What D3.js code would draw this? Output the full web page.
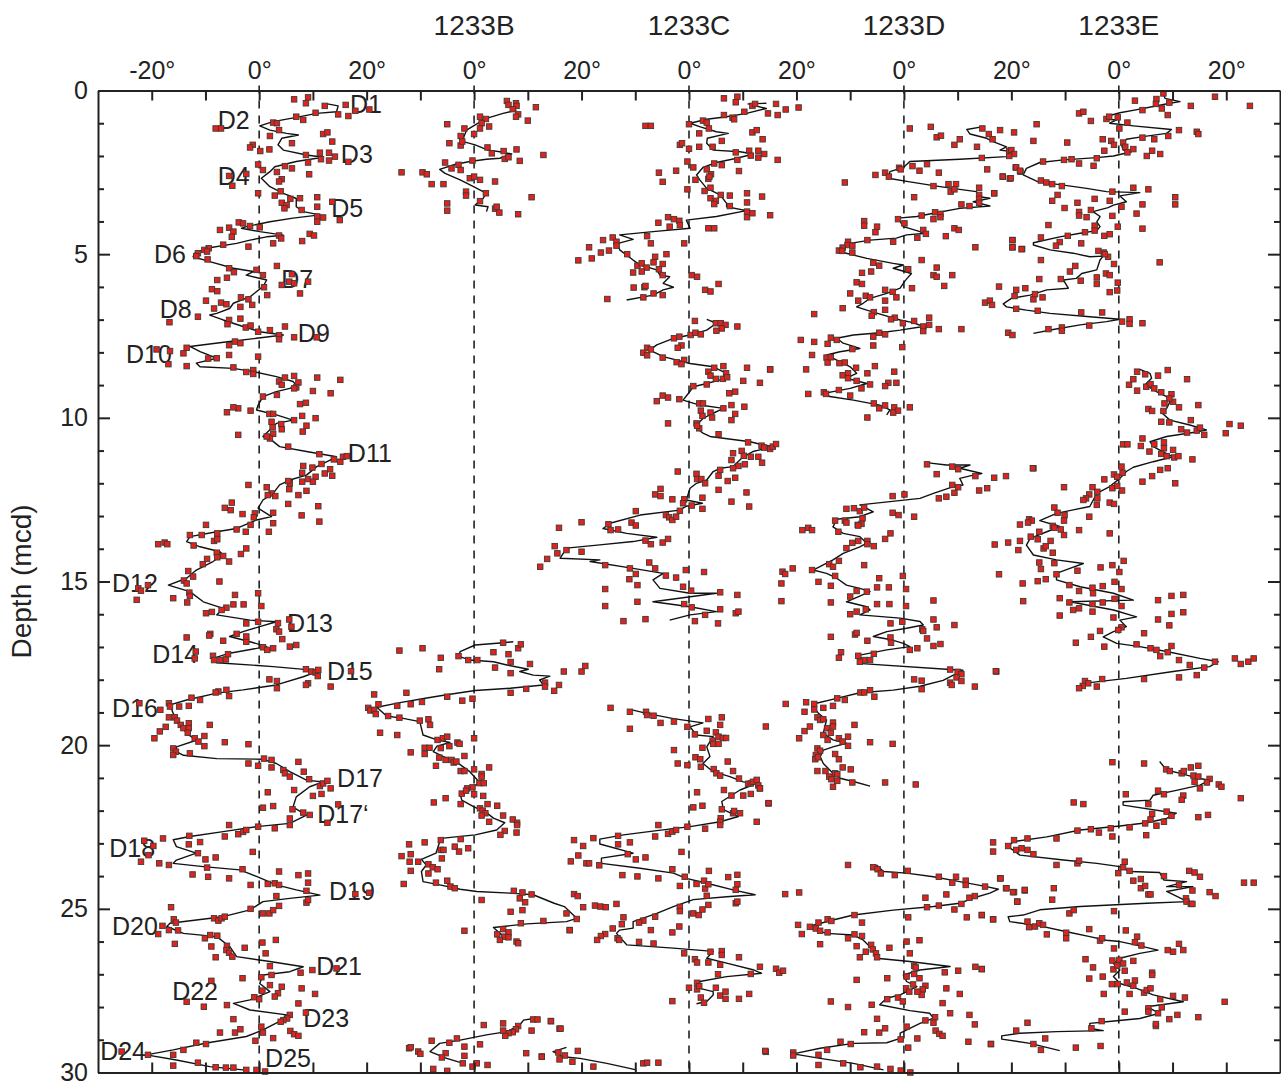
<!DOCTYPE html>
<html>
<head>
<meta charset="utf-8">
<script src="https://cdn.jsdelivr.net/npm/d3@7"></script>
<style>
  body { margin: 0; background: #fff; }
  svg text { font-family: "Liberation Sans", Arial, Helvetica, sans-serif; fill: #222; }
</style>
</head>
<body>
<div id="chart"></div>
<script>
// Hole names (first column is the unlabeled composite)
const holeNames = ["", "1233B", "1233C", "1233D", "1233E"];

// Top axis tick labels (degrees, repeated per hole)
const topTickValues = [-20, 0, 20, 40, 60, 80, 100, 120, 140, 160, 180];
const topTickLabels = ["-20°", "0°", "20°", "0°", "20°", "0°", "20°", "0°", "20°", "0°", "20°"];

// Climate marker labels [name, depth, inclination position]
const markerNames = ["D1","D2","D3","D4","D5","D6","D7","D8","D9","D10","D11","D12","D13","D14","D15","D16","D17","D17‘","D18","D19","D20","D21","D22","D23","D24","D25"];
const markerDepths = [0.69,1.18,2.22,2.89,3.87,5.27,6.03,6.95,7.68,8.33,11.35,15.32,16.55,17.49,18.01,19.14,21.28,22.38,23.42,24.73,25.80,27.02,27.79,28.61,29.62,29.83];
const markerIncs = [16.9,-7.7,15.2,-7.7,13.4,-19.6,4.1,-18.5,7.2,-24.8,16.5,-27.4,5.2,-19.9,12.6,-27.4,14.5,10.8,-27.9,13.0,-27.4,10.6,-16.2,8.2,-29.6,1.1];

// Smoothed records [depth (mcd), inclination deviation (°)]; null = gap
const lineA = [[0.41,12.7],[0.47,14.7],[0.65,14.4],[0.70,10.7],[0.82,6.9],[0.95,2.6],[1.08,0.1],[1.21,2.0],[1.31,5.1],[1.36,7.3],[1.46,4.2],[1.66,3.5],[1.82,4.5],[1.97,8.8],[2.04,11.9],[2.17,6.9],[2.33,2.9],[2.48,2.0],[2.68,0.4],[2.94,2.0],[3.14,4.5],[3.30,6.9],[3.55,6.9],[3.70,8.2],[3.80,11.3],[3.90,6.3],[4.01,2.0],[4.16,-2.4],[4.21,-3.3],[4.31,0.1],[4.42,4.5],[4.47,1.4],[4.57,-1.7],[4.67,-4.2],[4.82,-9.8],[4.97,-12.0],[5.08,-12.3],[5.23,-9.2],[5.43,-4.8],[5.53,-1.1],[5.64,-2.4],[5.79,1.4],[5.99,0.7],[6.30,-1.7],[6.50,-4.8],[6.66,-5.5],[6.81,-7.9],[6.86,-9.2],[7.01,-6.7],[7.21,-3.0],[7.37,0.1],[7.47,4.5],[7.57,-0.5],[7.67,-5.5],[7.82,-12.9],[7.98,-11.0],[8.18,-7.9],[8.33,-11.7],[8.44,-11.0],[8.49,-4.8],[8.59,-1.1],[8.74,3.2],[8.89,6.3],[9.00,6.9],[9.10,5.7],[9.20,3.2],[9.35,0.7],[9.61,-0.2],[9.76,-0.5],[9.91,3.2],[10.07,6.3],[10.17,3.2],[10.57,0.7],[10.68,2.3],[10.88,3.8],[11.03,8.8],[11.19,14.4],[11.29,13.2],[11.49,10.7],[11.75,8.8],[11.90,5.7],[12.05,3.8],[12.31,2.6],[12.51,0.7],[12.76,-0.2],[13.02,2.3],[13.12,-0.5],[13.38,-4.2],[13.48,-7.9],[13.63,-12.9],[13.78,-13.5],[13.94,-11.0],[14.09,-7.3],[14.19,-6.7],[14.39,-8.6],[14.65,-11.7],[14.90,-13.5],[15.11,-16.9],[15.31,-12.9],[15.62,-10.4],[15.82,-6.7],[16.02,-7.9],[16.18,-1.7],[16.23,3.2],[16.38,0.1],[16.53,-3.0],[16.68,-5.5],[16.84,-1.7],[16.99,1.4],[17.19,-5.5],[17.35,-8.6],[17.48,-7.9],[17.60,2.6],[17.70,9.4],[17.72,11.3],[17.91,8.2],[18.16,3.2],[18.31,-3.0],[18.41,-7.9],[18.62,-13.5],[18.77,-16.6],[19.03,-16.0],[19.33,-14.8],[19.64,-13.5],[19.85,-11.7],[20.05,-15.4],[20.20,-15.4],[20.31,-14.1],[20.41,-7.9],[20.43,0.7],[20.56,3.2],[20.81,5.7],[21.07,8.8],[21.12,11.9],[21.27,9.4],[21.58,6.9],[21.89,6.3],[22.14,8.8],[22.39,5.7],[22.49,-0.5],[22.64,-6.7],[22.79,-12.9],[22.89,-16.0],[23.10,-15.4],[23.30,-11.7],[23.51,-15.4],[23.61,-16.0],[23.71,-10.4],[23.81,-3.6],[24.01,-0.5],[24.27,3.2],[24.42,6.9],[24.58,11.3],[24.68,5.7],[24.78,0.7],[25.03,-1.7],[25.24,-6.7],[25.34,-11.7],[25.44,-16.6],[25.54,-17.2],[25.75,-14.1],[25.85,-7.9],[26.15,-5.5],[26.46,-4.2],[26.61,2.0],[26.77,8.2],[26.92,5.7],[27.02,0.7],[27.28,0.1],[27.53,2.0],[27.78,-1.7],[27.89,-4.8],[28.09,-1.7],[28.24,5.1],[28.44,3.8],[28.70,0.7],[28.90,-2.4],[29.10,-9.8],[29.31,-16.0],[29.46,-21.0],[29.62,-15.4],[29.82,-9.2],[29.92,-3.0]];

const lineB = [[0.60,7.9],[0.70,5.4],[0.85,2.3],[1.05,0.2],[1.21,-1.4],[1.41,-1.9],[1.56,-2.0],[1.66,0.2],[1.82,2.6],[1.87,4.8],[1.94,7.0],[2.07,4.8],[2.10,2.3],[2.17,-0.8],[2.26,-3.6],[2.41,-6.4],[2.53,-5.4],[2.73,-2.6],[2.94,-0.1],[3.14,2.3],[3.29,1.7],[3.50,0.2],[3.55,2.6],[3.70,2.3],null,
[16.84,7.3],[16.87,5.4],[16.94,0.2],[17.14,-2.6],[17.28,-2.9],[17.40,-0.8],[17.45,3.6],[17.55,6.1],[17.68,10.1],[17.75,8.5],[17.86,11.0],[17.89,14.1],[18.01,12.2],[18.16,12.9],[18.26,6.7],[18.33,0.2],[18.46,-5.1],[18.56,-8.8],[18.70,-13.8],[18.84,-18.1],[19.11,-16.3],[19.18,-13.2],[19.28,-10.1],[19.69,-9.5],[19.84,-6.9],[19.92,-4.5],[20.03,-6.9],[20.20,-7.6],[20.35,-5.7],[20.51,-3.3],[20.81,-0.8],[21.04,0.5],[21.16,1.1],[21.27,-0.5],[21.48,-2.6],[21.68,-2.3],[21.88,-0.1],[22.06,2.3],[22.23,3.6],[22.37,5.7],[22.59,4.2],[22.74,0.2],[22.84,-5.7],[22.95,-6.4],[23.30,-7.1],[23.49,-9.8],[23.66,-8.9],[23.86,-9.8],[24.17,-9.5],[24.27,-6.4],[24.40,-2.6],[24.47,0.5],[24.52,6.7],[24.57,11.0],[24.83,14.9],[24.93,16.8],[25.29,19.1],[25.39,17.2],[25.46,9.8],[25.57,3.6],[25.75,4.8],[25.95,6.1],null,
[28.35,11.0],[28.40,9.2],[28.55,8.5],[28.75,6.1],[28.85,2.3],[29.01,-2.6],[29.11,-6.4],[29.36,-8.2],[29.57,-5.1],[29.72,-2.0]];

const lineC = [[0.39,14.4],[0.41,11.0],[0.55,14.4],[0.70,10.7],[0.80,7.0],[0.88,3.3],[1.00,0.2],[1.11,2.1],[1.26,5.1],[1.31,7.3],[1.46,3.4],[1.61,3.3],[1.82,4.5],[1.87,9.5],[1.94,12.0],[2.07,8.9],[2.20,5.1],[2.35,2.6],[2.58,1.4],[2.73,2.0],[2.99,3.3],[3.19,5.8],[3.45,7.0],[3.55,7.0],[3.67,10.7],[3.85,5.1],[3.96,-0.5],[4.21,0.2],[4.31,-6.7],[4.41,-12.9],[4.55,-10.4],[4.67,-13.2],[4.87,-12.9],[5.18,-10.4],[5.33,-9.1],[5.48,-6.0],[5.64,-5.4],[5.69,-3.6],[5.89,-4.8],[6.01,-2.9],[6.09,-4.8],[6.25,-6.7],[6.40,-11.6],null,
[6.99,3.3],[7.11,5.1],[7.32,3.3],[7.47,0.2],[7.57,-2.9],[7.77,-6.0],[7.93,-7.3],[8.13,-4.8],[8.34,0.2],[8.44,4.5],[8.64,7.0],[8.84,5.8],[8.95,3.3],[9.05,0.8],[9.25,-0.1],[9.46,-1.1],[9.61,2.0],[9.71,6.4],[9.86,4.5],[10.02,2.6],[10.27,1.1],[10.47,2.6],[10.57,3.9],[10.73,11.4],[10.83,13.8],[10.88,15.7],[11.03,11.9],[11.19,10.1],[11.49,8.2],[11.54,5.8],[11.64,4.5],[11.90,3.3],[12.00,1.4],[12.15,0.2],[12.51,-0.5],[12.61,2.5],[12.70,-0.5],[12.82,-1.7],[12.97,-9.1],[13.22,-14.7],[13.38,-16.0],[13.53,-11.6],[13.65,-6.0],[13.78,-10.4],[13.88,-16.6],[13.98,-22.8],[14.29,-24.0],[14.34,-16.6],[14.39,-18.4],[14.60,-10.4],[14.75,-4.8],[14.95,-6.7],[15.21,-5.4],[15.36,0.2],[15.36,5.1],[15.62,-6.7],[15.77,0.2],[15.92,5.1],[16.02,0.2],[16.18,-3.6],null,
[18.93,-10.4],[19.03,-7.9],[19.19,-2.9],[19.32,2.6],[19.44,0.2],[19.69,1.4],[19.74,4.5],[20.05,3.3],[20.35,3.9],[20.56,2.6],[20.81,4.5],[20.96,7.6],[21.12,10.1],[21.17,12.6],[21.37,9.5],[21.72,6.1],[21.97,6.4],[22.18,9.2],[22.34,5.8],[22.49,0.2],[22.61,-6.0],[22.74,-12.2],[22.87,-16.6],[23.02,-16.6],[23.30,-10.4],[23.45,-16.3],[23.61,-16.3],[23.76,-9.1],[23.91,-2.9],[24.07,-0.5],[24.22,3.3],[24.42,8.2],[24.57,12.3],[24.63,7.0],[24.72,0.8],[24.93,-2.9],[25.14,-6.0],[25.39,-10.4],[25.59,-10.4],[25.65,-12.9],[25.75,-13.5],[26.10,-11.6],[26.20,-2.9],[26.30,4.5],[26.51,3.3],[26.66,7.0],[26.86,11.9],[26.97,13.5],[27.07,7.0],[27.22,2.0],[27.43,2.0],[27.53,4.5],[27.63,4.5],[27.83,3.3],[27.90,1.4],null,
[29.23,-22.8],[29.36,-25.3],[29.52,-23.4],[29.57,-20.3],[29.72,-15.3],[29.92,-9.8]];

const lineD = [[1.11,14.5],[1.19,11.7],[1.33,12.3],[1.46,15.4],[1.56,16.6],[1.72,19.1],[1.82,17.9],[1.87,20.3],[2.02,19.1],[2.10,10.4],[2.17,1.1],[2.35,-0.1],[2.48,-2.6],[2.68,-2.9],[2.79,1.1],[2.92,6.1],[3.02,10.4],[3.09,13.5],[3.24,13.8],[3.29,16.0],[3.40,12.9],[3.53,16.0],[3.60,10.4],[3.75,5.5],[3.85,2.4],[3.90,-1.1],[4.16,-0.1],[4.31,3.0],[4.36,4.2],[4.41,0.5],[4.51,-1.4],[4.57,-6.3],[4.67,-10.0],[4.87,-11.9],[4.95,-11.3],[5.13,-6.9],[5.28,-2.0],[5.33,-0.1],[5.43,-2.0],[5.59,1.4],[5.74,0.6],[5.84,0.1],[6.04,-0.7],[6.20,-3.2],[6.35,-6.3],[6.50,-7.6],[6.61,-8.8],[6.71,-6.9],[6.86,-3.8],[7.01,-0.7],[7.09,1.7],[7.21,3.6],[7.32,-0.7],[7.40,-4.5],[7.47,-9.4],[7.57,-12.5],[7.72,-11.3],[7.88,-8.2],[7.98,-11.9],[8.08,-14.4],[8.24,-12.5],[8.44,-10.0],[8.64,-8.8],[8.79,-10.7],[8.95,-6.9],[9.10,-10.0],[9.20,-13.2],[9.25,-14.7],[9.35,-13.8],[9.46,-9.4],[9.61,-4.5],[9.76,-2.6],[9.91,-3.2],null,
[11.37,4.2],[11.44,7.9],[11.44,12.3],[11.54,10.4],[11.70,14.5],[11.75,12.9],[11.85,10.4],[12.05,11.0],[12.10,9.2],[12.31,5.5],[12.46,3.0],[12.66,-8.2],[12.87,-5.7],[13.02,-8.2],[13.10,-12.5],[13.33,-13.2],[13.53,-11.3],[13.63,-8.2],[13.83,-6.9],[13.94,-8.2],[14.14,-11.3],[14.34,-13.2],[14.65,-16.9],[14.75,-14.4],[14.90,-12.5],[15.11,-10.7],[15.21,-8.2],[15.31,-6.3],[15.62,-10.7],[15.77,-6.9],[15.87,-6.3],[16.02,-8.2],[16.12,-0.7],[16.22,3.0],[16.33,3.6],[16.43,0.5],[16.53,-3.2],[16.68,-5.7],[16.77,-2.6],[16.89,-0.1],[16.99,1.1],[17.09,-3.2],[17.25,-8.2],[17.50,-8.5],[17.69,8.6],[17.71,11.0],[17.86,9.2],[18.02,7.3],[18.20,3.0],[18.32,-2.0],[18.40,-8.2],[18.57,-12.5],[18.72,-16.3],[18.82,-16.9],[19.03,-15.9],[19.23,-14.4],[19.43,-14.7],[19.64,-15.0],[19.84,-13.2],[19.94,-10.7],[20.05,-13.2],[20.15,-15.0],[20.35,-15.6],[20.56,-15.0],[20.86,-13.2],[21.01,-11.9],[21.11,-9.4],[21.25,-6.3],null,
[23.66,-5.1],[23.86,-3.8],[23.91,0.5],[24.02,5.5],[24.17,10.4],[24.32,15.4],[24.40,17.6],[24.52,16.0],[24.67,12.9],[24.83,10.4],[24.93,5.5],[25.04,-2.0],[25.19,-9.4],[25.34,-13.2],[25.50,-16.9],[25.65,-16.3],[25.75,-14.4],[25.80,-9.4],[25.95,-7.6],[26.26,-5.7],[26.51,-5.1],[26.61,1.1],[26.76,8.6],[26.87,3.0],[27.02,-0.1],[27.22,0.5],[27.38,2.4],[27.53,0.5],[27.63,-0.7],[27.73,-3.2],[27.93,-4.5],[28.11,1.1],[28.19,4.8],[28.34,5.5],[28.50,3.0],[28.65,1.1],[28.80,-0.7],[28.96,-0.7],[29.09,-3.2],[29.11,-9.4],[29.26,-15.6],[29.43,-20.6],[29.57,-15.6],[29.72,-9.4],[29.92,-3.8]];

const lineE = [[0.09,8.3],[0.24,8.6],[0.34,11.4],[0.39,9.5],[0.49,6.4],[0.57,3.9],[0.68,0.2],[0.78,-2.0],[0.88,-2.3],[0.90,-0.4],[1.00,-1.7],[1.08,2.7],[1.19,9.8],[1.31,8.9],[1.41,4.5],[1.49,1.4],[1.66,0.5],[1.82,0.8],[1.87,2.4],[2.00,-1.0],[2.05,-4.1],[2.12,-10.3],[2.20,-14.7],[2.38,-17.2],[2.58,-17.8],[2.79,-15.0],[2.89,-10.3],[2.99,-6.0],[3.09,-2.3],[3.12,3.9],[3.22,0.2],[3.40,1.4],[3.50,-1.0],[3.58,-2.0],[3.70,-4.8],[3.85,-3.5],[4.01,-4.1],[4.16,-3.5],[4.28,-4.1],[4.36,-7.2],[4.47,-11.0],[4.65,-15.9],[4.72,-15.9],[4.87,-12.8],[4.97,-8.5],[5.08,-5.4],[5.06,-2.9],[5.18,-3.5],[5.48,-4.1],[5.59,-6.9],[5.74,-7.9],[5.79,-10.3],[6.04,-9.4],[6.09,-13.4],[6.25,-16.5],[6.35,-20.0],[6.52,-21.5],[6.61,-20.9],[6.71,-17.2],[6.81,-12.8],[6.91,-5.4],[6.99,0.2],[7.06,-2.3],[7.16,-7.2],[7.30,-12.2],[7.42,-15.9],null,
[8.52,3.9],[8.64,5.8],[8.79,6.1],[8.99,4.9],[9.20,7.0],[9.35,8.9],[9.51,9.5],[9.71,8.9],[9.86,8.1],[10.07,9.5],[10.22,13.2],[10.37,16.3],[10.45,13.8],[10.57,8.9],[10.73,5.8],[10.88,6.4],[11.09,8.9],[11.19,10.1],[11.34,6.4],[11.51,2.7],[11.64,1.4],[11.85,0.2],[12.10,-1.7],[12.31,-4.1],[12.71,-5.4],[12.81,-8.5],[12.92,-11.6],[13.14,-14.7],[13.32,-11.0],[13.48,-13.4],[13.68,-16.5],[13.89,-17.2],[14.19,-15.9],[14.34,-11.6],[14.45,-6.6],[14.60,-9.1],[14.75,-11.6],[14.95,-11.6],[15.16,-7.2],[15.36,-1.0],[15.57,2.7],[15.62,-9.1],[15.87,-1.0],[16.08,3.3],[16.18,0.2],[16.38,1.4],[16.53,-1.0],[16.69,-2.9],[16.89,-0.4],[16.99,3.9],[17.14,8.9],[17.35,15.1],[17.45,18.5],[17.60,16.9],[17.75,10.1],[17.96,1.4],[18.09,-5.4],[18.26,-7.2],null,
[20.50,7.6],[20.76,8.9],[20.86,11.4],[21.02,15.1],[21.07,16.9],[21.22,15.1],[21.38,10.7],[21.53,6.4],[21.68,5.8],[21.73,0.8],[21.83,0.8],[22.08,10.7],[22.24,8.9],[22.37,5.2],[22.47,0.2],[22.59,-7.2],[22.80,-13.4],[22.95,-19.7],[23.10,-20.6],[23.36,-18.4],[23.51,-10.3],[23.61,-4.1],[23.71,0.2],[23.86,2.1],[23.89,7.6],[24.12,8.4],[24.17,12.6],[24.32,8.9],[24.32,13.8],[24.47,8.9],[24.78,12.8],[24.83,5.2],[24.93,-7.2],[25.03,-14.7],[25.19,-17.8],[25.24,-20.6],[25.39,-20.3],[25.52,-14.7],[25.70,-9.7],[25.85,-5.4],[25.96,-2.3],[26.00,0.2],[26.11,3.3],[26.26,7.3],[26.36,3.9],[26.51,0.2],[26.67,-1.0],[26.87,0.2],[27.07,-1.0],[27.28,0.2],[27.43,3.3],[27.63,6.4],[27.84,12.0],[27.99,5.2],[28.19,7.6],[28.35,3.9],[28.45,-2.3],[28.50,-5.4],[28.65,-5.4],[28.72,-2.9],[28.75,-11.6],[28.80,-18.4],[28.88,-21.8],[28.98,-21.8],[29.11,-16.5],[29.33,-11.0]];

// Individual measurements [depth (mcd), inclination deviation (°)]
const scatterA = [[0.27,6.5],[0.39,8.7],[0.21,9.1],[0.47,12.2],[0.44,16.1],[0.62,17.9],[0.58,20.5],[0.78,16.6],[0.73,14.7],[0.68,10.5],[0.80,6.9],[0.90,8.2],[1.16,-8.1],[1.16,-7.1],[0.98,2.6],[1.00,3.3],[1.21,3.7],[1.39,2.0],[1.33,11.9],[1.28,12.7],[1.56,13.6],[1.61,6.1],[1.66,-1.2],[1.74,-1.7],[1.85,0.2],[1.80,1.9],[1.97,8.7],[1.90,11.3],[1.90,13.0],[2.02,14.1],[2.14,13.0],[2.10,11.5],[2.18,16.6],[2.20,9.1],[2.31,4.8],[2.38,6.1],[2.26,-0.2],[2.43,0.7],[2.49,3.3],[2.56,9.3],[2.55,-2.4],[2.61,-5.6],[2.91,-5.0],[2.71,4.2],[2.78,3.7],[3.08,4.0],[3.14,-0.2],[3.21,2.9],[3.31,5.8],[3.29,7.6],[3.26,10.8],[3.55,10.8],[3.43,4.2],[3.50,5.1],[3.60,4.7],[3.65,7.9],[3.85,10.8],[3.88,11.9],[4.01,10.8],[3.96,15.0],[3.40,13.6],[4.03,-3.8],[4.06,-3.0],[4.14,-1.7],[4.18,0.1],[4.26,-7.3],[4.19,-5.6],[4.31,-4.8],[4.47,-5.1],[4.43,3.7],[4.52,4.1],[4.67,2.6],[4.60,8.0],[4.38,9.4],[4.43,10.2],[4.77,-2.0],[4.71,-6.7],[4.82,-9.4],[4.87,-10.2],[4.92,-9.7],[4.97,-11.4],[5.06,-11.7],[5.16,-9.6],[5.36,3.3],[5.43,-5.6],[5.55,-4.7],[5.48,-0.5],[5.64,0.7],[5.61,6.1],[5.84,5.6],[5.89,6.5],[5.84,9.1],[5.94,4.2],[6.20,7.6],[5.79,-7.8],[5.72,-6.0],[6.07,-8.8],[6.13,-7.8],[6.01,0.9],[6.25,1.5],[6.42,-9.9],[6.66,-8.4],[6.48,-7.1],[6.53,-6.1],[6.32,-3.4],[6.38,-2.0],[6.55,-1.3],[6.61,-3.5],[6.91,-11.4],[7.08,-16.7],[7.01,-5.6],[6.97,-3.5],[7.14,-5.9],[7.24,-2.5],[7.18,-1.6],[7.32,2.0],[7.37,-0.2],[7.48,3.7],[7.60,3.7],[7.21,4.8],[7.54,6.5],[7.54,10.7],[7.67,-4.5],[7.78,-5.6],[7.72,-3.5],[7.86,-13.5],[7.96,-16.6],[7.91,-19.1],[8.03,-14.1],[8.36,-16.9],[8.42,-13.5],[8.19,-9.5],[8.18,-7.9],[8.08,-5.6],[8.13,-0.2],[8.46,-4.8],[8.60,-2.4],[8.54,-1.1],[8.66,-1.1],[8.77,4.8],[8.72,6.5],[8.89,3.7],[8.99,4.2],[8.92,7.3],[9.07,6.9],[9.10,6.5],[8.77,10.8],[8.84,15.1],[9.18,10.0],[9.25,13.3],[9.30,3.3],[9.35,0.7],[9.58,7.6],[9.54,8.7],[9.71,-3.9],[9.68,-4.8],[9.83,-6.0],[9.78,-1.6],[9.88,1.9],[9.88,2.6],[9.94,8.0],[10.07,6.5],[10.01,10.5],[10.12,2.3],[10.19,4.1],[10.35,4.2],[10.29,2.5],[10.24,8.8],[10.42,8.1],[10.49,2.6],[10.63,2.0],[10.57,1.4],[10.52,-3.9],[10.88,5.4],[11.11,11.2],[11.27,13.9],[11.34,15.1],[11.19,15.6],[11.17,16.3],[11.41,11.6],[11.47,8.2],[11.52,9.9],[11.57,13.2],[11.77,13.6],[11.70,12.2],[11.80,10.5],[11.68,8.0],[11.95,8.0],[11.87,9.1],[11.95,10.0],[12.00,5.7],[11.93,5.4],[12.12,1.4],[12.05,-2.0],[12.18,5.6],[12.31,2.3],[12.39,3.0],[12.36,7.3],[12.23,8.8],[12.36,1.6],[12.63,5.4],[12.70,11.0],[12.59,-5.1],[12.75,-6.4],[12.82,-5.3],[12.94,-3.1],[12.92,-0.8],[12.90,2.6],[13.04,-1.0],[13.22,2.6],[13.48,1.8],[12.98,7.9],[13.17,11.2],[13.27,-9.9],[13.41,-4.2],[13.48,-2.5],[13.27,-1.6],[13.53,-7.8],[13.58,-10.7],[13.58,-12.9],[13.76,-8.4],[13.71,-7.8],[13.81,-17.6],[13.86,-18.8],[13.86,-17.1],[13.90,-12.2],[14.12,-7.9],[14.22,-6.7],[14.26,-7.8],[14.39,-5.6],[14.31,-9.7],[14.47,-10.5],[14.16,-3.4],[13.99,-2.4],
[14.68,-13.2],[14.85,-12.3],[15.00,-7.4],[14.97,-14.0],[15.06,-13.5],[15.11,-20.7],[15.21,-22.5],[15.28,-22.0],[15.56,-22.8],[15.51,-16.0],[15.34,-13.0],[15.44,-12.9],[15.64,-13.4],[15.41,-4.5],[15.36,-0.2],[15.75,0.4],[15.70,-2.9],[15.70,-4.8],[15.80,-6.1],[15.87,-7.0],[15.93,-8.8],[15.97,-9.9],[16.23,-0.2],[16.28,-2.4],[16.27,3.5],[16.16,5.6],[16.38,6.0],[16.46,3.2],[16.53,3.7],[16.76,4.3],[16.99,5.7],[16.94,6.9],[16.71,-13.5],[16.60,-9.1],[16.65,-9.3],[16.81,-6.7],[16.60,-4.2],[16.84,-2.4],[16.68,-2.4],[17.01,0.7],[17.09,1.5],[17.04,2.6],[17.14,-11.8],[17.35,-12.0],[17.27,-8.6],[17.40,-8.4],[17.40,-7.2],[17.38,-6.2],[17.22,-5.8],[17.68,8.7],[17.75,9.7],[17.78,10.5],[17.89,10.9],[17.70,11.0],[18.11,9.1],[18.16,8.7],[18.21,13.3],[17.74,17.1],[17.99,1.9],[18.04,3.3],[18.26,3.3],[18.36,-7.6],[18.39,-8.1],[18.31,-6.1],[18.50,-5.6],[18.62,-11.0],[18.55,-12.6],[18.72,-16.8],[18.82,-16.6],[18.92,-18.4],[18.72,-22.3],[18.82,-14.9],[18.80,-13.1],[19.15,-16.8],[19.15,-15.7],[19.25,-15.3],[19.38,-14.6],[19.48,-14.1],[19.33,-13.1],[19.48,-13.1],[19.62,-13.3],[19.44,-17.4],[19.58,-18.5],[19.79,-19.5],[19.38,-9.2],[19.79,-12.0],[19.72,-10.2],[20.03,-10.2],[19.89,-11.3],[19.91,-6.4],[19.97,-2.0],[20.10,-16.0],[20.20,-15.5],[20.30,-16.0],[20.25,-12.9],[20.41,0.9],[20.45,2.3],[20.56,-2.0],[20.63,-0.2],[20.68,2.3],[20.76,4.5],[20.51,7.3],[20.81,8.3],[20.86,4.8],[20.96,5.7],[21.04,9.3],[21.25,11.3],[21.17,11.9],[21.09,12.7],[21.32,13.3],[21.49,11.6],[21.55,10.0],[21.37,6.5],[21.44,1.6],[21.91,0.7],[21.86,2.6],[21.96,6.2],[22.06,8.2],[22.13,9.4],[21.81,14.7],[22.37,12.7],[22.24,5.7],[22.44,5.7],[22.54,2.9],[22.49,-0.2],[22.44,-5.6],[22.79,-6.4],[22.72,-3.9],[22.65,-3.0],[22.59,-2.4],[22.77,-13.0],[22.96,-11.0],[23.03,-13.1],[22.85,-17.9],[22.92,-21.4],[23.08,-19.7],[23.36,-20.6],[23.56,-22.0],[23.61,-18.6],[23.66,-16.8],[23.30,-11.4],[23.49,-10.0],[23.43,-8.1],[23.26,-1.2],[23.74,-9.7],[23.95,-12.4],[24.02,-9.5],[24.07,-5.6],[23.79,-3.1],[24.27,-1.6],[24.24,1.6],[24.22,2.9],[23.86,3.7],[24.27,3.7],[23.97,7.3],[23.92,9.1],[24.20,9.1],[24.61,3.2],[24.45,8.8],[24.81,8.8],[24.73,9.1],[24.55,17.9],[24.51,20.5],[25.00,-1.6],[25.14,0.7],[25.14,1.9],[25.04,2.6],[24.91,3.7],[24.95,-16.4],[25.32,-15.9],[25.42,-15.5],[25.52,-18.0],[25.77,-18.8],[25.65,-16.8],[25.66,-15.1],[25.29,-8.4],[25.36,-7.6],[25.29,-7.0],[25.24,-6.4],[25.90,-10.1],[25.80,-9.1],[25.82,-7.8],[26.07,-15.7],[26.15,-8.9],[26.13,-6.0],[26.48,-8.1],[26.26,-6.1],[26.34,-5.6],[26.46,-5.0],[26.19,-2.7],[26.03,0.6],[25.95,3.1],[26.36,1.2],[26.75,2.0],[27.02,2.3],[26.95,7.7],[26.87,9.9],[26.82,14.4],[27.12,-3.1],[27.09,0.4],[27.33,2.0],[27.50,0.6],[27.38,4.2],[27.58,3.5],[27.68,2.9],[27.43,7.9],[27.60,10.4],[27.20,-8.9],[27.84,-13.5],[27.99,-10.3],[27.94,-6.0],[27.70,-0.9],[27.76,0.0],[27.89,7.3],[28.17,8.7],[28.24,5.7],[28.35,5.2],[28.40,4.5],[28.45,4.0],[28.37,-4.8],[28.78,-4.5],[28.68,-3.5],[28.78,-7.3],[28.60,0.4],[28.78,0.7],[28.95,2.6],[28.73,5.8],[28.83,6.5],[28.88,7.3],[29.03,-0.7],[29.09,-11.7],[29.13,-9.9],[29.31,-14.1],[29.46,-16.0],[29.46,-20.7],[29.36,-25.6],[29.79,-16.0],[29.70,-11.4],[29.84,-8.1],[29.85,-6.2],[29.85,-4.8],[29.92,-2.4],[29.92,-0.5],[29.97,1.1]];

const scatterB = [[0.32,6.1],[0.44,6.4],[0.39,7.8],[0.47,7.9],[0.57,7.2],[0.51,11.5],[0.73,8.2],[0.80,7.8],[0.92,10.0],[0.80,1.1],[0.87,2.2],[1.00,1.4],[1.10,2.8],[1.16,1.1],[1.33,0.0],[1.16,-1.8],[1.03,-5.0],[1.39,-2.5],[1.61,-4.6],[1.68,-2.5],[1.56,-2.2],[1.74,2.5],[1.92,3.3],[1.85,5.5],[1.80,7.9],[2.09,5.7],[2.04,6.4],[2.15,8.5],[1.97,12.9],[2.14,-0.3],[2.20,-5.4],[2.27,-2.9],[2.38,-4.2],[2.43,-2.5],[2.50,-13.5],[2.50,-9.6],[2.56,-8.8],[2.86,-7.9],[2.86,-5.7],[2.68,-0.8],[2.63,0.0],[2.73,1.1],[2.78,3.9],[3.09,-1.5],[3.21,-1.5],[3.14,2.2],[3.38,1.1],[3.26,10.7],[3.45,-5.0],[3.67,-5.0],[3.61,3.9],[3.55,4.2],[3.73,4.7],[3.78,8.2],
[17.11,-13.9],[17.04,-9.6],[17.33,-6.2],[17.68,-6.5],[17.28,-2.9],[17.40,-1.1],[17.40,0.6],[17.16,3.6],[16.87,5.4],[17.22,6.4],[17.04,8.2],[16.92,8.7],[17.46,6.8],[17.52,10.4],[17.63,3.9],[17.80,6.8],[18.09,13.2],[18.21,13.2],[18.34,14.9],[18.16,15.8],[17.75,16.7],[17.75,20.0],[17.58,20.7],[18.28,9.7],[18.40,6.8],[18.58,-0.3],[18.64,-2.2],[18.52,-5.0],[18.68,-9.7],[18.40,-12.6],[18.75,-11.8],[18.80,-14.3],[18.45,-18.6],[18.75,-17.8],[18.86,-19.7],[18.94,-19.3],[18.92,-18.6],[19.05,-18.3],[19.11,-16.0],[19.16,-13.9],[19.25,-10.1],[19.21,-8.5],[19.38,-8.2],[19.62,-17.5],[19.69,-14.3],[19.84,-6.8],[19.79,-5.8],[19.74,-5.0],[20.09,-6.2],[20.03,-4.6],[19.92,-3.1],[19.96,-2.7],[20.08,-9.2],[20.08,-8.3],[20.27,-9.2],[20.22,-11.8],[19.79,0.0],[20.33,-1.8],[20.63,-7.1],[20.38,-6.5],[20.45,-5.3],[20.45,-4.2],[20.53,-3.8],[20.50,-3.3],[20.79,-2.5],[20.79,-1.8],[20.74,0.0],[20.88,1.4],[20.96,1.4],[20.68,2.8],[21.16,1.0],[21.16,1.8],[21.29,-0.3],[21.32,-1.3],[21.48,-2.3],[21.39,-1.5],[21.50,0.0],[21.55,1.7],[21.75,-7.5],[21.62,-5.3],[21.80,-2.5],[21.93,1.1],[21.80,2.5],[21.85,4.3],[22.00,1.6],[22.08,2.1],[22.15,1.4],[22.34,2.8],[22.15,5.4],[22.27,7.2],[22.37,8.0],[22.44,8.0],[22.62,5.7],[22.74,4.9],[22.67,7.9],[22.87,-2.5],[22.90,-6.2],[23.20,-6.2],[23.10,-3.6],[23.25,-2.8],[23.15,-1.1],[22.97,-9.2],[23.03,-12.1],[23.33,-11.8],[23.39,-13.5],[23.56,-12.0],[23.84,-11.8],[24.24,-13.1],[23.56,-10.4],[23.64,-8.5],[23.73,-7.7],[23.79,-6.8],[23.46,-6.0],[23.20,-5.7],[23.92,-8.5],[24.20,-7.1],[24.14,-5.0],[24.32,-4.4],[24.37,-3.6],[24.73,1.4],[24.45,7.4],[24.50,9.0],[24.56,10.7],[24.68,8.5],[24.80,9.5],[25.09,6.8],[25.04,9.0],[25.14,17.2],[25.31,19.1],[24.55,18.6],[24.61,19.3],[24.95,20.3],[25.37,12.9],[25.44,8.7],[25.65,17.8],[25.67,-1.8],[25.62,5.4],[25.72,6.4],[25.78,4.3],[25.85,5.6],[25.95,4.8],[25.87,6.4],[26.00,7.9],[26.05,8.2],
[28.38,11.0],[28.38,11.8],[28.43,14.3],[28.66,15.9],[28.72,10.7],[28.58,8.2],[28.68,7.8],[28.77,7.2],[28.80,6.4],[28.88,5.8],[28.50,5.4],[28.72,5.4],[28.55,1.8],[28.96,-3.2],[29.09,-4.6],[29.03,-7.9],[29.26,-12.1],[29.23,-11.8],[29.36,-10.4],[29.43,-10.0],[29.21,-1.8],[29.14,1.1],[29.41,-5.3],[29.54,-6.0],[29.49,-1.8],[29.89,-7.6],[29.95,-5.0],[29.72,-2.1],[29.82,-0.3],[29.72,0.5],[29.77,2.5],[29.41,9.7],[29.51,12.6]];

const scatterC = [[0.24,6.5],[0.19,9.0],[0.36,8.7],[0.47,11.8],[0.41,12.3],[0.41,16.2],[0.58,18.0],[0.52,20.4],[0.70,14.7],[0.75,16.5],[0.65,10.3],[0.75,6.5],[0.83,8.1],[0.88,8.4],[0.92,2.6],[0.98,3.3],[1.03,0.0],[1.08,-8.1],[1.08,-7.1],[1.16,3.7],[1.31,1.9],[1.54,6.1],[1.28,11.8],[1.21,12.6],[1.49,13.7],[1.66,-1.7],[1.61,-1.3],[1.78,0.0],[1.72,1.9],[1.72,4.4],[1.89,8.7],[1.84,11.2],[1.84,12.9],[1.94,14.0],[2.05,12.9],[1.99,11.5],[2.12,9.0],[2.12,16.5],[2.23,4.7],[2.28,6.1],[2.17,-0.3],[2.35,0.8],[2.41,3.3],[2.56,4.1],[2.70,3.6],[2.63,3.8],[2.46,9.3],[2.51,-5.6],[2.45,-2.4],[2.79,-4.9],[2.73,1.2],[3.02,-0.3],[3.07,2.9],[2.97,4.0],[3.19,5.9],[3.21,7.6],[3.14,10.8],[3.24,13.6],[3.29,4.0],[3.37,5.0],[3.47,4.7],[3.53,7.6],[3.42,10.8],[3.70,10.8],[3.87,10.8],[3.75,11.8],[3.81,15.1],[3.87,-3.9],[3.93,-2.8],[3.98,-1.8],[4.04,-5.7],[4.16,-3.6],[4.11,-1.7],[4.21,3.6],[4.21,4.7],[4.49,-14.2],[4.57,-16.0],[4.62,-13.5],[4.74,-13.5],[4.45,-7.8],[4.67,-7.1],[4.67,-0.9],[4.79,-18.6],[4.95,-16.4],[4.89,-14.9],[5.13,-18.1],[5.19,-20.6],[5.00,-11.5],[5.08,-6.3],[5.00,-4.2],[5.35,-9.6],[5.28,-8.8],[5.41,-7.9],[5.25,-6.6],[5.30,-4.9],[5.46,-5.6],[5.56,-10.4],[5.53,-8.8],[5.64,-4.9],[5.64,0.5],[5.69,1.5],[5.91,5.5],[6.02,-10.3],[6.01,-8.3],[5.97,-8.1],[6.20,-6.6],[6.25,-4.9],[6.32,-8.5],[6.37,-15.2],[6.09,3.0],[6.14,4.0],
[7.04,1.1],[7.11,5.0],[7.11,5.9],[7.16,6.8],[7.27,6.1],[7.34,5.1],[7.21,9.0],[7.47,0.3],[7.40,1.2],[7.45,2.2],[7.52,-1.8],[7.57,-2.8],[7.79,-1.4],[7.86,-2.1],[7.86,-7.8],[7.91,-7.1],[8.01,-8.5],[8.09,-7.8],[8.16,-4.9],[8.30,-2.3],[8.23,-0.9],[8.36,-1.4],[8.47,4.7],[8.42,6.4],[8.59,3.6],[8.64,6.9],[8.71,4.0],[8.81,5.0],[8.81,6.3],[8.76,7.1],[8.47,10.8],[8.52,15.1],[8.87,10.1],[8.93,13.2],[8.98,3.3],[9.03,0.8],[9.25,7.5],[9.20,8.6],[9.49,-6.0],[9.32,-4.9],[9.38,-3.9],[9.43,-1.8],[9.56,1.9],[9.56,2.6],[9.61,7.9],[9.66,10.3],[9.71,6.4],[9.78,2.2],[9.84,4.0],[9.94,2.5],[9.99,4.3],[9.88,8.6],[10.07,7.9],[10.17,-3.9],[10.17,1.4],[10.32,1.9],[10.24,1.5],[10.50,5.5],[10.75,11.0],[10.85,13.5],[10.91,14.0],[10.95,15.1],[10.88,15.6],[10.80,16.2],[11.08,8.2],[11.01,9.8],[11.29,7.9],[11.16,10.2],[11.19,11.5],[11.19,12.9],[11.37,13.6],[11.42,10.4],[11.47,9.2],[11.54,8.2],[11.59,5.8],[11.77,5.5],[11.83,8.6],[11.93,7.2],[11.64,-2.1],[11.71,1.4],[11.87,1.5],[11.87,2.3],[12.00,3.0],[12.20,5.5],[12.28,10.7],[12.17,-5.3],[12.34,-6.3],[12.39,-5.3],[12.49,-3.1],[12.49,-0.9],[12.61,-1.1],[12.68,0.5],[12.44,2.5],[12.78,2.5],[12.56,7.9],[12.71,11.2],[12.85,-9.9],[12.97,-4.3],[13.04,-3.7],[13.12,-3.1],[13.02,-2.4],[12.84,-1.7],[13.19,-20.0],[13.36,-24.2],[13.25,-15.0],[13.20,-10.7],[13.29,-9.9],[13.43,-14.6],[13.41,-13.2],[13.75,-8.1],[13.86,-7.1],[13.81,-4.9],[13.70,-3.9],[13.92,-25.0],[14.04,-22.8],[14.09,-20.0],[14.14,-24.5],[14.31,-26.4],[14.55,-27.7],[14.50,-15.6],[14.60,-11.0],[14.77,-9.9],[14.93,-11.1],[14.42,-7.4],[14.60,-6.3],[14.82,-4.3],[14.88,-2.4],[14.65,-0.6],[14.71,2.8],[15.23,-15.6],[15.11,-9.6],[15.16,-1.1],[15.28,0.4],[15.33,5.8],[15.41,9.0],[15.75,-15.6],[15.62,-9.6],[15.69,-0.9],[15.79,0.5],[16.02,3.0],[15.85,5.8],[16.28,5.4],[15.97,8.7],[15.92,9.2],[16.21,1.1],[16.15,-8.1],[16.21,-12.2],
[18.86,-14.6],[18.98,-11.0],[19.50,-11.0],[18.98,-8.0],[19.08,-7.8],[19.10,-6.6],[19.32,-5.3],[19.28,-2.8],[19.44,-0.3],[19.67,1.1],[19.56,3.3],[19.20,3.6],[19.15,6.1],[19.38,5.8],[19.61,5.0],[19.74,5.5],[19.78,6.3],[19.78,6.9],[19.86,4.4],[19.96,4.5],[19.96,5.5],[20.08,2.5],[20.15,-2.8],[20.56,-2.1],[20.61,-0.3],[20.37,1.2],[20.43,2.1],[20.66,2.2],[20.50,7.2],[20.79,8.2],[20.73,4.6],[20.86,5.1],[20.93,5.8],[21.02,9.3],[21.18,11.0],[21.17,11.5],[21.12,11.9],[21.06,12.6],[21.23,12.9],[21.32,13.2],[21.37,6.5],[21.54,7.9],[21.54,10.1],[21.49,11.5],[21.78,14.8],[21.44,1.5],[21.90,0.8],[21.85,2.5],[21.96,6.1],[22.23,5.9],[22.34,5.8],[22.44,5.8],[22.08,8.2],[22.01,8.4],[22.08,9.5],[22.34,12.6],[22.44,-5.7],[22.49,-0.3],[22.55,3.0],[22.79,-6.3],[22.71,-3.9],[22.64,-3.1],[22.59,-2.4],[22.77,-13.2],[22.97,-11.0],[23.03,-13.2],[22.84,-17.8],[22.90,-21.4],[23.08,-19.7],[23.37,-20.6],[23.55,-22.0],[23.61,-19.1],[23.61,-18.6],[23.67,-16.7],[23.33,-11.4],[23.49,-9.9],[23.43,-8.1],[23.26,-1.4],[23.97,-12.4],[24.01,-9.6],[24.07,-5.7],[23.79,-3.1],[24.30,-1.7],[24.02,-0.8],[24.24,1.4],[24.14,2.8],[24.38,3.0],[24.25,3.6],[23.84,3.7],[24.60,3.3],[24.03,7.3],[23.96,9.0],[24.25,9.0],[24.42,8.7],[24.83,8.7],[24.78,9.0],[24.94,-1.7],[25.07,-1.7],[25.14,0.8],[25.19,1.8],[25.02,2.5],[24.88,3.6],[25.24,-6.3],[25.36,-8.5],[25.42,-9.3],[25.65,-7.1],[25.72,-3.1],[25.54,-1.8],[25.26,-12.2],[25.47,-12.5],[25.60,-14.2],[25.77,-15.6],[25.83,-16.4],[25.95,-17.1],[25.90,-13.3],[25.95,-13.0],[26.01,-9.3],[26.06,-6.6],[25.65,-22.2],[24.90,-17.5],[24.93,-16.5],[24.95,-15.5],[24.85,-13.5],[26.36,-0.9],[26.31,4.0],[26.29,6.1],[26.41,6.1],[26.54,1.1],[26.64,1.5],[26.64,3.6],[26.71,5.8],[26.48,9.3],[26.77,13.2],[26.99,11.5],[27.00,5.4],[26.83,16.2],[26.95,16.8],[26.89,17.5],[27.26,1.5],[27.41,0.0],[27.46,1.5],[27.36,1.9],[27.41,5.0],[27.65,5.8],[27.53,6.8],[27.75,6.8],[27.75,9.3],[27.60,11.2],[27.71,2.2],[27.82,-3.1],[27.87,2.8],
[28.43,-25.7],[28.66,-23.9],[29.52,-27.4],[29.39,-24.3],[29.48,-23.1],[29.60,-24.1],[29.67,-21.7],[29.34,-20.7],[29.82,-17.8],[29.72,-8.5],[29.70,-7.8],[29.70,-5.7]];

const scatterD = [[1.16,1.1],[1.11,5.0],[1.43,6.1],[1.38,6.9],[1.49,10.4],[1.66,9.4],[1.72,13.6],[1.16,14.6],[1.33,15.8],[1.49,16.5],[1.21,17.9],[1.28,20.5],[1.84,19.6],[1.82,20.0],[1.94,20.5],[2.00,19.6],[2.06,14.5],[2.41,15.5],[2.63,18.4],[2.69,19.7],[2.35,20.8],[2.48,21.7],[2.31,1.6],[2.36,-0.9],[2.41,-0.6],[2.25,4.3],[2.45,2.9],[2.51,6.5],[2.51,-3.5],[2.58,-5.3],[2.63,-2.8],[2.81,-11.0],[3.26,1.9],[2.92,5.5],[2.86,8.3],[2.86,9.7],[3.09,8.7],[3.02,9.4],[2.97,14.0],[3.14,16.8],[3.19,14.0],[3.31,14.0],[3.43,14.0],[3.48,10.7],[3.53,12.2],[3.93,5.5],[3.72,5.8],[3.77,6.8],[3.87,6.8],[3.82,3.3],[3.93,-1.1],[4.06,0.1],[3.99,-7.4],[4.13,-7.4],[4.16,-5.0],[4.33,-5.3],[4.26,3.6],[4.38,4.1],[4.50,2.5],[4.45,7.8],[4.21,9.4],[4.26,10.2],[4.79,13.3],[4.57,20.2],[4.79,20.2],[4.84,22.0],[4.62,-2.0],[4.57,-6.8],[4.62,-10.4],[4.72,-10.5],[4.74,-9.6],[4.80,-11.4],[4.89,-12.1],[4.90,-11.5],[4.95,-9.6],[5.18,3.3],[5.26,-5.7],[5.35,-4.6],[5.46,0.8],[5.41,6.1],[5.64,5.5],[5.69,6.1],[5.64,9.0],[5.57,-7.8],[5.53,-6.1],[5.86,-8.8],[5.91,-7.8],[6.04,1.5],[5.97,7.5],[6.20,-10.0],[6.09,-3.5],[6.15,-2.1],[6.32,-1.4],[6.27,-7.1],[6.32,-6.3],[6.42,-8.5],[6.42,-3.5],[6.65,-11.4],[6.83,-16.7],[6.77,-5.6],[6.88,-6.0],[6.70,-3.5],[6.94,-1.7],[6.99,-2.4],[7.11,-0.2],[7.04,1.9],[7.21,3.6],[7.35,3.6],[6.94,4.7],[7.16,4.7],[7.29,6.5],[7.29,10.7],[7.40,-4.6],[7.45,-3.5],[7.52,-5.7],[7.55,-13.6],[7.62,-12.5],[7.62,-19.2],[7.68,-16.7],[7.74,-14.2],[7.90,-9.6],[7.79,-5.7],[7.84,-0.3],[8.08,-17.1],[8.16,-14.4],[8.31,-14.2],[8.15,-13.6],[8.33,-12.0],[8.31,-11.0],[8.47,-8.9],[8.42,-5.4],[8.52,-24.9],[8.52,-18.2],[8.70,-11.4],[8.64,-10.4],[8.79,-10.4],[8.64,-6.8],[8.59,-1.8],[8.87,-8.8],[9.10,-7.9],[8.98,-6.3],[8.93,-2.9],[8.93,-1.4],[9.03,-3.5],[9.27,-17.8],[9.22,-14.9],[9.27,-14.5],[9.15,-12.1],[9.32,-10.0],[9.56,-5.6],[9.71,-4.6],[9.62,-3.5],[9.68,-1.8],[9.78,-1.1],[9.68,1.1],[9.99,-6.8],[9.84,-2.0],
[11.42,4.3],[11.72,6.1],[11.49,9.0],[11.57,10.1],[11.78,13.3],[11.83,16.8],[11.78,19.0],[11.54,24.1],[12.05,9.0],[12.12,10.1],[12.29,9.4],[12.22,14.0],[12.15,15.5],[12.46,6.5],[12.41,7.9],[12.39,-2.1],[12.34,0.1],[12.78,-10.7],[12.76,-9.3],[12.85,-8.2],[12.74,-7.4],[13.07,-7.7],[12.90,-2.1],[12.97,-1.0],[13.02,1.9],[13.14,-12.8],[13.14,-11.0],[13.20,-10.7],[13.27,-8.6],[13.24,-7.9],[13.43,-18.9],[13.36,-17.8],[13.43,-17.1],[13.48,-12.2],[13.29,-8.5],[13.53,-2.5],[13.70,-3.5],[13.82,-9.6],[13.76,-8.5],[13.76,-6.8],[13.86,-6.8],[13.92,-5.6],[13.98,-10.7],[14.37,-12.1],[14.47,-13.9],[14.55,-13.2],[14.50,-7.4],[14.70,-22.6],[14.77,-22.1],[14.60,-20.7],[14.65,-17.1],[15.01,-15.9],[15.13,-13.6],[14.83,-12.8],[14.90,-4.6],[14.83,-0.2],[15.06,-22.8],[15.18,-2.8],[15.18,-5.0],[15.46,-10.0],[15.29,-8.8],[15.31,-6.9],[15.23,0.4],[15.58,5.5],
[15.60,-22.8],[15.64,-13.6],[16.00,-10.0],[15.92,-8.8],[15.85,-7.1],[15.69,-5.0],[15.69,-2.7],[15.75,0.4],[16.16,5.5],[16.40,6.1],[16.33,9.4],[16.46,3.4],[16.51,3.6],[16.23,-0.3],[16.28,-2.5],[16.69,-13.6],[16.62,-9.1],[16.57,-8.8],[16.81,-6.8],[16.71,-2.5],[16.87,-2.4],[16.74,4.3],[16.97,5.5],[16.91,6.8],[17.09,1.1],[17.04,2.5],[17.16,-11.7],[17.33,-12.1],[17.27,-8.5],[17.21,-5.6],[17.40,-7.4],[17.40,-6.3],[17.45,-8.2],[17.69,8.6],[17.76,10.0],[17.83,10.7],[17.93,9.8],[18.09,8.6],[18.16,8.9],[18.04,10.7],[18.21,13.2],[17.75,17.2],[17.99,1.9],[18.03,3.3],[18.29,3.3],[18.39,-8.1],[18.39,-7.4],[18.32,-6.3],[18.52,-5.5],[18.57,-12.4],[18.62,-11.0],[18.69,-18.2],[18.74,-16.7],[18.74,-22.0],[18.98,-18.5],[18.91,-16.7],[18.86,-15.0],[18.80,-13.2],[19.15,-16.1],[19.23,-15.6],[19.21,-15.0],[19.31,-13.2],[19.43,-13.2],[19.48,-14.3],[19.43,-25.7],[19.57,-18.5],[19.43,-17.5],[19.38,-9.2],[19.69,-15.0],[19.62,-13.6],[19.79,-19.5],[19.84,-14.2],[19.79,-12.1],[19.74,-10.4],[19.89,-11.4],[20.02,-10.4],[19.91,-6.3],[19.96,-2.1],[20.10,-16.1],[20.17,-15.6],[20.30,-16.4],[20.43,-16.5],[20.37,-16.0],[20.27,-12.8],[20.43,-12.1],[20.79,-16.1],[20.79,-14.6],[20.68,-11.4],[20.74,-9.9],[20.96,-13.9],[21.04,-13.5],[20.86,-12.8],[20.89,-12.4],[21.09,-12.4],[21.27,-13.2],[21.14,-9.6],[21.14,-3.5],[21.20,2.2],[21.32,-26.8],[21.77,-25.2],
[23.66,-10.4],[23.73,-5.7],[23.79,-4.9],[23.92,-4.3],[23.97,-1.7],[23.84,0.7],[24.02,6.5],[24.02,9.7],[24.20,9.0],[24.14,11.5],[24.27,11.5],[24.32,15.1],[24.07,17.9],[24.37,19.0],[24.49,20.5],[24.44,22.5],[24.78,21.1],[24.66,4.0],[24.56,7.9],[24.66,12.2],[24.61,13.2],[24.85,10.7],[25.02,9.4],[24.90,6.5],[24.95,4.3],[25.26,0.8],[25.26,11.7],[25.19,14.5],[25.32,16.6],[24.55,-22.1],[24.50,-19.5],[25.19,-9.2],[25.42,-7.8],[25.49,-19.7],[25.55,-17.5],[25.42,-15.9],[25.32,-14.2],[25.37,-13.5],[25.77,-19.0],[25.60,-16.4],[25.67,-15.6],[25.72,-14.2],[25.90,-10.4],[25.78,-9.2],[25.83,-7.8],[26.08,-15.6],[26.14,-8.8],[26.31,-7.1],[26.10,-6.1],[26.24,-5.8],[26.36,-5.2],[26.48,-5.0],[26.48,-8.2],[26.19,-2.7],[26.00,0.5],[25.96,2.9],[26.36,1.1],[26.74,1.9],[26.79,2.2],[26.94,7.6],[26.89,10.1],[26.77,13.3],[26.84,14.5],[27.17,-8.8],[27.12,-3.1],[27.07,0.5],[26.99,1.9],[27.12,2.9],[27.35,4.0],[27.46,3.5],[27.63,3.3],[27.53,2.5],[27.31,1.7],[27.43,0.4],[27.53,1.0],[27.43,7.9],[27.60,10.4],[27.83,-13.6],[28.00,-10.4],[27.93,-6.0],[27.76,-3.1],[27.71,-1.1],[27.83,-0.2],[27.88,7.2],[28.19,8.6],[28.24,12.2],[28.53,13.2],[28.31,5.8],[28.41,4.0],[28.48,5.5],[28.36,-5.0],[28.65,-3.5],[28.78,-4.6],[28.77,-7.4],[28.60,0.5],[28.96,2.5],[28.72,5.9],[28.82,6.6],[28.88,7.2],[29.06,12.0],[29.13,16.2],[28.99,-0.6],[29.24,0.8],[29.06,-11.8],[29.13,-9.9],[29.31,-14.3],[29.39,-20.6],[29.48,-20.6],[29.46,-15.9],[29.37,-25.7],[29.34,-25.8],[29.77,-15.9],[29.72,-11.3],[29.84,-8.1],[29.82,-5.0],[29.89,-2.5],[29.94,-0.6],[30.00,1.2]];

const scatterE = [[0.09,8.3],[0.31,3.0],[0.26,7.0],[0.41,6.9],[0.37,9.4],[0.47,13.4],[0.19,17.9],[0.47,24.4],[0.60,4.4],[0.55,8.0],[0.70,-7.4],[0.65,-6.6],[0.93,-5.2],[0.87,-2.3],[0.80,-1.8],[0.82,-0.2],[1.16,0.1],[0.98,1.6],[0.75,9.1],[1.03,-15.3],[1.44,4.4],[1.49,6.6],[1.39,9.2],[1.21,11.2],[1.26,14.5],[1.33,14.8],[1.54,-15.9],[1.59,-9.6],[1.49,-3.0],[1.54,-1.4],[1.66,-0.9],[1.59,0.8],[1.72,1.2],[1.79,2.7],[1.89,1.6],[1.84,-2.7],[1.84,6.2],[1.94,7.7],[2.00,5.2],[2.07,-4.1],[2.30,-4.7],[2.23,-7.4],[2.10,-8.8],[2.12,-10.2],[2.17,-14.1],[2.35,-19.1],[2.45,-18.4],[2.63,-21.6],[2.68,-20.1],[3.14,-23.2],[2.75,-14.5],[2.81,-13.5],[2.86,-12.4],[2.92,-10.6],[3.09,-1.2],[2.97,2.7],[3.02,5.5],[3.26,10.5],[3.48,10.5],[3.19,-11.4],[3.37,-12.4],[3.31,-4.5],[3.37,-1.7],[3.55,0.5],[3.48,4.4],[3.76,3.3],[3.59,-10.1],[3.43,-7.7],[3.71,-7.4],[3.82,-7.4],[3.87,-6.0],[3.65,-5.2],[3.83,-1.2],[4.11,-13.1],[4.16,-0.2],[4.22,4.4],[4.13,-4.5],[4.28,-4.5],[4.44,-2.7],[4.39,-1.7],[4.33,-6.3],[4.44,-9.5],[4.49,-14.5],[4.63,-11.0],[4.74,-11.7],[4.67,-7.0],[4.57,-19.8],[4.79,-19.8],[4.85,-18.1],[4.90,-3.8],[4.95,-2.8],[5.08,-2.0],[5.00,-2.6],[5.18,-14.5],[5.25,7.6],[5.30,-0.9],[5.36,-8.1],[5.53,-9.1],[5.59,-2.4],[5.64,-1.7],[5.71,-4.1],[5.81,-7.1],[5.91,-4.1],[5.87,-0.2],[5.76,-14.8],[5.76,-10.8],[6.11,-0.3],[6.16,-1.7],[5.99,-22.3],[6.09,-19.1],[6.04,-17.4],[6.28,-19.4],[6.38,-15.9],[6.22,-15.6],[6.32,-14.2],[6.48,-24.9],[6.42,-24.0],[6.55,-23.6],[6.67,-19.1],[6.73,-15.1],[6.78,-7.0],[6.78,-3.1],[7.06,0.6],[6.99,2.0],[7.13,2.0],[7.11,4.4],[7.18,-5.5],[7.29,-13.1],[7.24,-10.6],[7.34,-10.6],[7.40,-20.6],[7.47,-19.8],
[8.59,3.4],[8.67,4.9],[8.71,7.3],[8.54,9.1],[8.82,12.7],[8.99,1.9],[8.82,2.7],[9.17,3.4],[9.05,5.1],[8.97,5.9],[9.10,6.6],[9.22,7.9],[9.28,9.8],[9.51,10.1],[9.41,9.4],[9.56,8.5],[9.68,11.2],[9.61,14.8],[9.73,5.5],[9.79,6.2],[9.79,8.3],[10.12,7.9],[10.14,9.4],[10.07,13.4],[10.35,11.6],[10.45,12.7],[10.39,14.5],[10.30,15.1],[10.52,15.9],[10.19,20.6],[10.24,22.7],[10.47,19.9],[10.63,4.4],[10.81,0.8],[10.81,1.6],[10.86,4.1],[10.81,6.6],[10.75,8.4],[11.03,5.7],[10.93,8.4],[10.98,10.1],[11.10,7.9],[11.17,8.9],[11.21,10.3],[11.17,11.1],[11.27,13.7],[11.49,0.5],[11.73,-0.9],[11.80,-0.3],[11.68,0.7],[12.22,0.6],[11.95,4.4],[11.78,6.2],[11.59,7.7],[11.54,9.1],[12.00,10.5],[11.54,-16.0],[11.88,-2.7],[12.15,-1.2],[12.08,-0.3],[12.12,-10.2],[12.12,-4.9],[12.26,-4.0],[12.46,-4.0],[12.34,-5.5],[12.46,-6.1],[12.51,-6.6],[12.66,-4.1],[12.59,-1.7],[12.63,-0.9],[12.74,-12.0],[12.90,-11.4],[12.97,-10.1],[13.14,-10.2],[13.02,-5.5],[13.10,-16.7],[13.14,-16.2],[13.26,-18.4],[13.20,-16.9],[13.30,-12.3],[13.36,-12.0],[13.41,-10.8],[13.58,-10.2],[13.43,-7.4],[13.53,-1.7],[13.48,-14.8],[13.87,-23.1],[13.81,-20.6],[13.76,-18.4],[14.04,-18.7],[13.63,-16.4],[13.71,-15.1],[13.99,-14.0],[13.76,-12.7],[14.12,-12.3],[13.92,-13.6],[14.42,-14.8],[14.62,-14.5],[14.44,-12.0],[14.67,-7.7],[14.57,-3.4],[14.50,-1.2],[14.71,0.1],[14.37,0.9],[14.78,-22.3],[15.06,-17.9],[14.99,-15.1],[14.93,-13.6],[14.78,-11.6],[15.11,-9.2],[15.29,-7.4],[15.19,-4.9],[15.36,-4.8],[15.14,-3.0],[15.01,-0.8],[15.53,-0.8],[15.23,0.5],[15.51,-11.0],[15.57,7.3],[15.44,9.8],[15.41,12.0],
[15.60,-17.8],[15.64,-9.2],[15.82,-7.4],[15.87,-8.5],[15.92,-4.9],[15.69,-4.9],[15.64,-3.0],[16.04,-11.0],[15.75,0.5],[16.10,-1.0],[16.40,0.5],[16.48,-0.1],[16.16,7.3],[16.34,9.4],[15.99,9.8],[15.94,12.0],[16.58,4.7],[16.87,-8.0],[16.69,-5.2],[16.51,-3.5],[16.99,-2.7],[16.92,3.3],[17.04,5.9],[17.09,7.0],[17.28,7.7],[17.16,9.1],[16.97,9.8],[17.40,11.2],[17.55,13.2],[17.86,14.5],[17.63,15.9],[17.45,17.9],[17.35,21.6],[17.52,22.7],[17.45,24.1],[17.35,25.1],[17.93,11.2],[17.98,4.7],[17.98,-3.1],[18.04,-6.3],[18.11,-5.7],[18.19,-6.7],[18.26,-7.4],[18.21,-4.1],[17.74,-22.9],
[20.52,-1.2],[20.56,4.7],[20.74,8.8],[20.79,9.5],[20.86,11.7],[20.68,13.4],[20.63,14.8],[20.79,12.1],[20.93,13.9],[20.96,14.8],[21.12,14.1],[21.32,15.1],[21.03,16.9],[21.14,16.4],[21.20,18.6],[21.27,19.1],[21.62,22.7],[21.39,7.3],[21.50,8.4],[21.54,12.0],[21.67,11.7],[21.50,1.3],[21.80,5.5],[21.75,-8.4],[21.80,-6.6],[22.10,6.2],[22.03,8.9],[22.16,9.8],[22.20,14.8],[22.13,16.6],[22.27,5.9],[22.39,4.9],[22.46,7.0],[22.34,8.4],[22.75,5.1],[22.51,2.0],[22.54,-1.5],[22.79,-1.2],[22.67,-3.7],[22.57,-5.2],[22.61,-7.7],[22.85,-11.6],[22.85,-17.0],[22.90,-19.5],[23.08,-20.6],[22.97,-23.4],[23.25,-23.4],[23.20,-19.1],[23.15,-18.1],[23.20,-17.0],[23.33,-15.9],[23.66,-11.6],[23.61,-7.7],[23.53,-7.4],[23.56,1.1],[23.73,0.8],[23.91,-0.1],[23.84,2.0],[24.14,2.7],[24.09,4.1],[24.37,4.1],[24.30,4.9],[24.56,5.5],[24.56,5.9],[24.00,8.4],[24.27,11.2],[23.84,13.1],[23.89,14.1],[24.02,15.1],[24.44,13.7],[24.49,16.9],[24.61,18.0],[24.68,12.5],[24.78,12.6],[24.85,13.4],[24.85,13.7],[24.20,23.3],[24.20,25.1],[24.07,-22.0],[24.37,-20.9],[24.49,-19.7],[24.42,-17.5],[24.78,-18.9],[24.37,-12.1],[24.72,-12.4],[25.14,-9.2],[25.04,-8.4],[25.07,-0.9],[25.19,-25.5],[25.32,-23.4],[25.39,-17.0],[25.56,-16.7],[25.54,-15.6],[25.44,-14.8],[25.49,-14.1],[25.78,-13.4],[25.73,-9.8],[25.90,-9.8],[25.62,-5.5],[25.97,-3.5],[25.90,-3.1],[26.21,-0.9],[25.66,1.3],[26.02,3.0],[25.85,3.4],[26.12,4.2],[26.26,9.1],[26.31,10.1],[26.07,11.2],[26.26,12.0],[26.84,-25.5],[26.54,-6.2],[26.79,-4.8],[27.13,-5.5],[27.07,-3.0],[26.58,-1.2],[26.56,0.1],[26.67,0.8],[26.85,-1.0],[26.73,-0.3],[26.89,1.1],[26.59,2.7],[26.95,6.2],[27.02,6.2],[27.19,3.0],[27.25,1.5],[27.30,-1.3],[27.30,-0.2],[27.35,2.7],[27.60,2.0],[27.60,-2.8],[27.56,4.7],[27.48,5.2],[27.43,5.9],[27.76,7.7],[27.66,10.1],[27.71,12.3],[27.84,19.7],[28.14,1.1],[28.04,5.5],[28.14,5.5],[28.19,7.3],[28.01,8.0],[28.37,9.4],[28.24,10.9],[28.31,14.8],[28.58,6.9],[28.52,6.9],[28.43,-3.2],[28.65,-5.1],[28.48,-17.0],[28.72,-19.1],[28.96,-13.7],[29.13,-23.8],[29.13,-15.9],[29.31,-14.5],[29.24,-8.0],[29.19,-3.4]];

// Offsets placing each hole on the shared degree axis (layout)
const holeOffsets = [0, 40, 80, 120, 160];
const holeLines = [lineA, lineB, lineC, lineD, lineE];
const holeScatter = [scatterA, scatterB, scatterC, scatterD, scatterE];

const width = 1281, height = 1089;
const plotLeft = 98, plotRight = 1280, plotTop = 90.5, plotBottom = 1072.5;

const x = d3.scaleLinear().domain([-30, 190]).range([plotLeft, plotRight]);
const y = d3.scaleLinear().domain([0, 30]).range([plotTop, plotBottom]);

const svg = d3.select("#chart").append("svg")
  .attr("width", width).attr("height", height);

// Zero reference lines
holeOffsets.forEach(off => {
  svg.append("line")
    .attr("x1", x(off)).attr("x2", x(off))
    .attr("y1", plotTop - 5).attr("y2", plotBottom)
    .style("stroke", "#222").style("stroke-width", 1.6)
    .style("stroke-dasharray", "8,7");
});

// Smoothed lines
holeLines.forEach((data, i) => {
  const off = holeOffsets[i];
  const line = d3.line()
    .defined(d => d !== null)
    .x(d => x(d[1] + off))
    .y(d => y(d[0]));
  svg.append("path")
    .datum(data)
    .attr("d", line)
    .style("fill", "none")
    .style("stroke", "#111")
    .style("stroke-width", 1.4)
    .style("stroke-linejoin", "round");
});

// Marker labels
markerNames.forEach((name, i) => {
  svg.append("text")
    .attr("x", x(markerIncs[i]))
    .attr("y", y(markerDepths[i]))
    .style("font-size", "25px")
    .text(name);
});

// Measurements
const sq = 5.5;
holeScatter.forEach((data, i) => {
  const off = holeOffsets[i];
  svg.append("g").selectAll("rect")
    .data(data)
    .join("rect")
    .attr("x", d => x(d[1] + off) - sq / 2)
    .attr("y", d => y(d[0]) - sq / 2)
    .attr("width", sq)
    .attr("height", sq)
    .style("fill", "#e3231b")
    .style("stroke", "#3a3a3a")
    .style("stroke-width", 0.9);
});

// Axes
const axisStyle = g => {
  g.select(".domain").style("stroke", "#222").style("stroke-width", 2);
  g.selectAll(".tick line").style("stroke", "#222").style("stroke-width", 2);
  g.selectAll(".tick text").style("font-size", "25px").style("fill", "#222")
    .style("font-family", "\"Liberation Sans\", Arial, sans-serif");
};

const degTicks = d3.range(-20, 190, 10);

svg.append("g")
  .attr("transform", `translate(0,${plotTop})`)
  .call(d3.axisTop(x).tickValues(degTicks).tickSizeInner(-10).tickSizeOuter(0).tickPadding(12)
    .tickFormat(d => {
      const k = topTickValues.indexOf(d);
      return k >= 0 ? topTickLabels[k] : "";
    }))
  .call(axisStyle);

svg.append("g")
  .attr("transform", `translate(0,${plotBottom})`)
  .call(d3.axisBottom(x).tickValues(degTicks).tickSizeInner(-10).tickSizeOuter(0).tickFormat(""))
  .call(axisStyle);

const depthTicks = d3.range(0, 31, 1);

const yLeft = svg.append("g")
  .attr("transform", `translate(${plotLeft},0)`)
  .call(d3.axisLeft(y).tickValues(depthTicks).tickSizeInner(-6).tickSizeOuter(0).tickPadding(10)
    .tickFormat(d => d % 5 === 0 ? d : ""))
  .call(axisStyle);
yLeft.selectAll(".tick line").filter(d => d % 5 === 0).attr("x2", 12);

const yRight = svg.append("g")
  .attr("transform", `translate(${plotRight},0)`)
  .call(d3.axisRight(y).tickValues(depthTicks).tickSizeInner(-6).tickSizeOuter(0).tickFormat(""))
  .call(axisStyle);
yRight.selectAll(".tick line").filter(d => d % 5 === 0).attr("x2", -12);

// Hole labels
holeNames.forEach((name, i) => {
  if (!name) return;
  svg.append("text")
    .attr("x", x(holeOffsets[i]))
    .attr("y", 35)
    .attr("text-anchor", "middle")
    .style("font-size", "28px")
    .text(name);
});

// Y title
svg.append("text")
  .attr("transform", `translate(31,${(plotTop + plotBottom) / 2}) rotate(-90)`)
  .attr("text-anchor", "middle")
  .style("font-size", "28px")
  .text("Depth (mcd)");
</script>
</body>
</html>
